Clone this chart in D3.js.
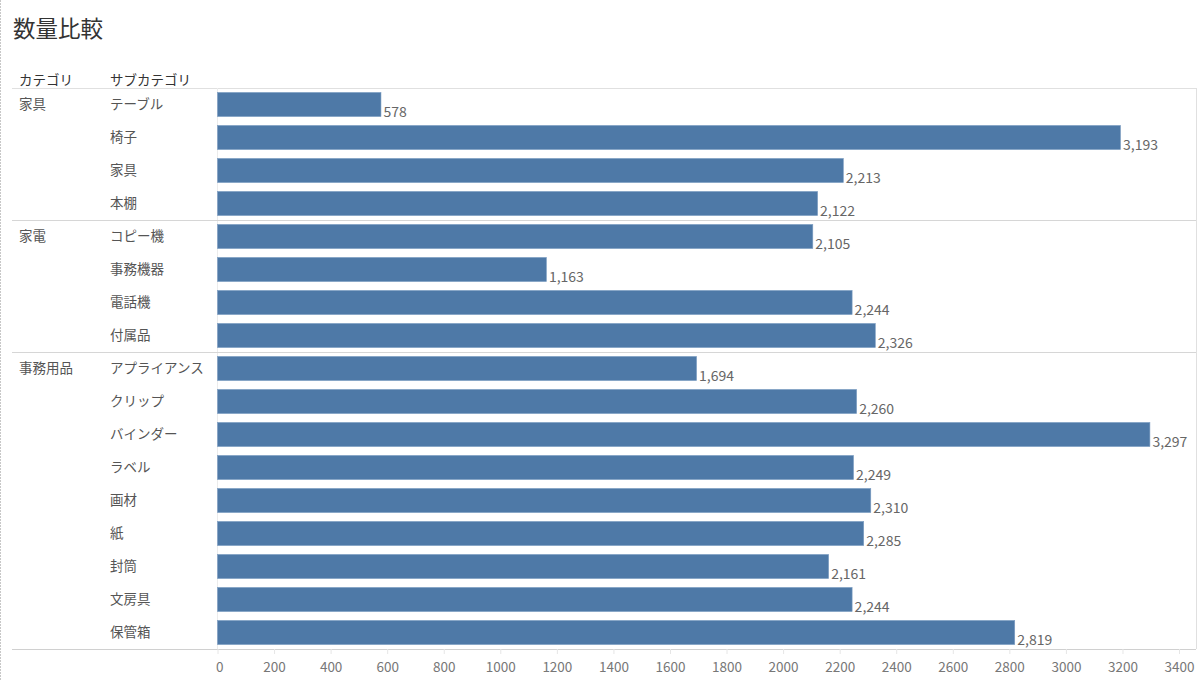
<!DOCTYPE html>
<html><head><meta charset="utf-8">
<script src="https://cdn.jsdelivr.net/npm/d3@7"></script>
<style>
html,body{margin:0;padding:0;background:#fff;}
text{font-family:"Noto Sans CJK JP","Noto Sans",sans-serif;}
</style></head>
<body><svg id="c" width="1200" height="680"></svg>
<script>
const categories = ["家具","家具","家具","家具","家電","家電","家電","家電",
  "事務用品","事務用品","事務用品","事務用品","事務用品","事務用品","事務用品","事務用品","事務用品"];
const subcategories = ["テーブル","椅子","家具","本棚","コピー機","事務機器","電話機","付属品",
  "アプライアンス","クリップ","バインダー","ラベル","画材","紙","封筒","文房具","保管箱"];
const quantities = [578,3193,2213,2122,2105,1163,2244,2326,1694,2260,3297,2249,2310,2285,2161,2244,2819];
const tickValues = [0,200,400,600,800,1000,1200,1400,1600,1800,2000,2200,2400,2600,2800,3000,3200,3400];

(function(){
const svg = d3.select("#c");
const pLeft = 217.5, pRight = 1196, pTop = 88, pBottom = 649, frameLeft = 12;

const x = d3.scaleLinear().domain([0, 3460]).range([pLeft, pRight]);
const y = d3.scaleBand().domain(d3.range(subcategories.length)).range([pTop, pBottom])
  .paddingInner(0.27).paddingOuter(0.135);
const step = y.step();

// page left border
svg.append("line").attr("x1",0.5).attr("x2",0.5).attr("y1",0).attr("y2",680)
  .attr("stroke","#c8c8c8").attr("stroke-dasharray","2,1");

// title
svg.append("text").attr("x",13).attr("y",37).attr("font-size",22.5).attr("fill","#333").text("数量比較");
// headers
svg.append("text").attr("x",19).attr("y",85).attr("font-size",13.5).attr("fill","#333").text("カテゴリ");
svg.append("text").attr("x",110).attr("y",85).attr("font-size",13.5).attr("fill","#333").text("サブカテゴリ");

// frame lines
svg.append("line").attr("x1",frameLeft).attr("x2",pRight).attr("y1",pTop+0.5).attr("y2",pTop+0.5).attr("stroke","#e0e0e0");
svg.append("line").attr("x1",pRight+0.5).attr("x2",pRight+0.5).attr("y1",pTop).attr("y2",pBottom).attr("stroke","#e0e0e0");
svg.append("line").attr("x1",pLeft).attr("x2",pLeft).attr("y1",pTop).attr("y2",pBottom).attr("stroke","#ececec");

// category separators and labels
const firstIdx = [];
categories.forEach((c,i)=>{ if(i===0 || categories[i-1]!==c) firstIdx.push(i); });
firstIdx.forEach(i=>{
  const yy = y(i) - y.paddingOuter()*step;
  if(i>0) svg.append("line").attr("x1",frameLeft).attr("x2",pRight).attr("y1",Math.round(yy)+0.5).attr("y2",Math.round(yy)+0.5).attr("stroke","#d6d6d6");
  svg.append("text").attr("x",19).attr("y",y(i)+y.bandwidth()/2).attr("dy","0.35em")
    .attr("font-size",13.5).attr("fill","#555").text(categories[i]);
});
svg.append("line").attr("x1",frameLeft).attr("x2",pRight).attr("y1",pBottom+0.5).attr("y2",pBottom+0.5).attr("stroke","#d0d0d0");

// subcategory labels
svg.append("g").selectAll("text").data(subcategories).join("text")
  .attr("x",110).attr("y",(d,i)=>y(i)+y.bandwidth()/2).attr("dy","0.35em")
  .attr("font-size",13.5).attr("fill","#555").text(d=>d);

// bars
svg.append("g").selectAll("rect").data(quantities).join("rect")
  .attr("x",x(0)).attr("y",(d,i)=>y(i)).attr("width",d=>x(d)-x(0)).attr("height",y.bandwidth())
  .attr("fill","#4e79a7").attr("stroke","#7d9dc2").attr("stroke-width",0.6);

// value labels
const fmt = d3.format(",");
svg.append("g").selectAll("text").data(quantities).join("text")
  .attr("x",d=>x(d)+2.5).attr("y",(d,i)=>y(i)+y.bandwidth()+0.5)
  .attr("font-size",14).attr("fill","#666").text(d=>fmt(d));

// axis
const axis = d3.axisBottom(x).tickValues(tickValues).tickSize(5).tickPadding(6).tickFormat(d=>d);
const ag = svg.append("g").attr("transform",`translate(0,${pBottom})`).call(axis);
ag.select(".domain").remove();
ag.selectAll(".tick line").attr("stroke","#e6e6e6");
ag.selectAll(".tick text").attr("font-size",13.5).attr("fill","#777")
  .attr("font-family","\"Noto Sans CJK JP\",sans-serif").attr("dy","0.9em");
ag.selectAll(".tick text").filter(d=>d===0).attr("text-anchor","start").attr("dx",-2);
})();
</script></body></html>
